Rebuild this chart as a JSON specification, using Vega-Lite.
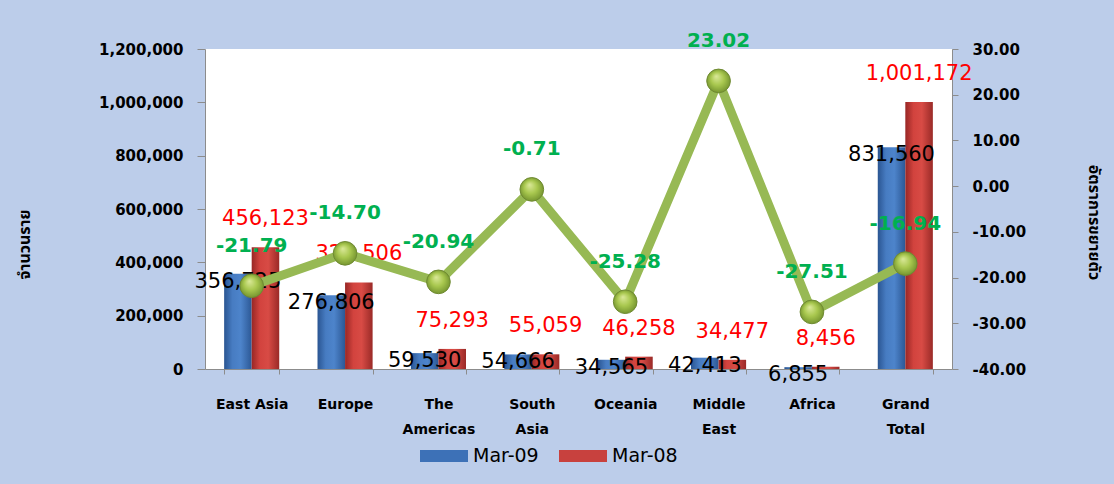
{
  "$schema": "https://vega.github.io/schema/vega-lite/v6.json",
  "width": 747,
  "height": 320,
  "autosize": {"type": "none"},
  "padding": {"left": 205, "top": 49, "right": 162, "bottom": 115},
  "background": "#bccdea",
  "config": {
    "view": {"fill": "white", "stroke": null},
    "font": "DejaVu Sans",
    "locale": {"number": {"decimal": ".", "thousands": ",", "grouping": [3], "currency": ["$", ""], "minus": "-"}},
    "axis": {
      "labelFont": "DejaVu Sans",
      "labelFontWeight": "bold",
      "labelColor": "#000000",
      "domainColor": "#8c8c8c",
      "tickColor": "#8c8c8c",
      "grid": false,
      "titleFont": "Noto Sans Thai, Noto Sans, DejaVu Sans, sans-serif",
      "titleFontWeight": "bold",
      "titleFontSize": 16,
      "titleColor": "#000000"
    },
    "legend": {
      "orient": "none",
      "legendX": 215,
      "legendY": 383,
      "direction": "horizontal",
      "title": null,
      "symbolType": "M-1,-0.25L1,-0.25L1,0.25L-1,0.25Z",
      "symbolSize": 2304,
      "symbolStrokeWidth": 0,
      "labelFont": "DejaVu Sans",
      "labelFontSize": 19,
      "labelColor": "#000000",
      "labelOffset": 5,
      "columnPadding": 20
    }
  },
  "datasets": {
    "bars": [
      {"region": "East  Asia", "series": "Mar-09", "visitors": 356725},
      {"region": "East  Asia", "series": "Mar-08", "visitors": 456123},
      {"region": "Europe", "series": "Mar-09", "visitors": 276806},
      {"region": "Europe", "series": "Mar-08", "visitors": 324506},
      {"region": "The Americas", "series": "Mar-09", "visitors": 59530},
      {"region": "The Americas", "series": "Mar-08", "visitors": 75293},
      {"region": "South Asia", "series": "Mar-09", "visitors": 54666},
      {"region": "South Asia", "series": "Mar-08", "visitors": 55059},
      {"region": "Oceania", "series": "Mar-09", "visitors": 34565},
      {"region": "Oceania", "series": "Mar-08", "visitors": 46258},
      {"region": "Middle East", "series": "Mar-09", "visitors": 42413},
      {"region": "Middle East", "series": "Mar-08", "visitors": 34477},
      {"region": "Africa", "series": "Mar-09", "visitors": 6855},
      {"region": "Africa", "series": "Mar-08", "visitors": 8456},
      {"region": "Grand Total", "series": "Mar-09", "visitors": 831560},
      {"region": "Grand Total", "series": "Mar-08", "visitors": 1001172}
    ],
    "growth": [
      {"region": "East  Asia", "growth": -21.79},
      {"region": "Europe", "growth": -14.70},
      {"region": "The Americas", "growth": -20.94},
      {"region": "South Asia", "growth": -0.71},
      {"region": "Oceania", "growth": -25.28},
      {"region": "Middle East", "growth": 23.02},
      {"region": "Africa", "growth": -27.51},
      {"region": "Grand Total", "growth": -16.94}
    ]
  },
  "encoding": {
    "x": {
      "field": "region",
      "type": "nominal",
      "sort": null,
      "scale": {"paddingInner": 0.41, "paddingOuter": 0.205},
      "axis": {
        "title": null,
        "labelAngle": 0,
        "labelFontSize": 14,
        "labelPadding": 23,
        "labelLineHeight": 25,
        "tickBand": "extent",
        "tickSize": 5,
        "labelExpr": "datum.label == 'East  Asia' ? datum.label : split(datum.label, ' ')"
      }
    }
  },
  "layer": [
    {
      "data": {"name": "bars"},
      "encoding": {
        "xOffset": {"field": "series", "type": "nominal", "scale": {"domain": ["Mar-09", "Mar-08"]}},
        "y": {
          "field": "visitors",
          "type": "quantitative",
          "scale": {"domain": [0, 1200000]},
          "axis": {
            "title": "จำนวนราย",
            "values": [0, 200000, 400000, 600000, 800000, 1000000, 1200000],
            "format": ",.0f",
            "labelFontSize": 15,
            "tickSize": 8,
            "labelPadding": 14,
            "titlePadding": 66,
            "titleY": 195
          }
        }
      },
      "layer": [
        {
          "mark": {"type": "bar", "strokeWidth": 0},
          "encoding": {
            "stroke": {
              "field": "series",
              "type": "nominal",
              "scale": {"domain": ["Mar-09", "Mar-08"], "range": ["#3d71b7", "#c8413e"]},
              "legend": {
                "encoding": {
                  "symbols": {
                    "fill": {"condition": {"test": "datum.value === 'Mar-09'", "value": "#3d71b7"}, "value": "#c8413e"},
                    "strokeWidth": {"value": 0}
                  }
                }
              }
            },
            "fill": {
              "condition": {
                "test": "datum.series === 'Mar-09'",
                "value": {"gradient": "linear", "x1": 0, "y1": 0, "x2": 1, "y2": 0,
                  "stops": [
                    {"offset": 0, "color": "#2a5592"},
                    {"offset": 0.3, "color": "#477cc2"},
                    {"offset": 0.6, "color": "#4d84cb"},
                    {"offset": 1, "color": "#2c5895"}
                  ]}
              },
              "value": {"gradient": "linear", "x1": 0, "y1": 0, "x2": 1, "y2": 0,
                "stops": [
                  {"offset": 0, "color": "#982725"},
                  {"offset": 0.3, "color": "#d2433e"},
                  {"offset": 0.6, "color": "#d84b45"},
                  {"offset": 1, "color": "#9a2a27"}
                ]}
            }
          }
        },
        {
          "transform": [{"filter": "datum.series === 'Mar-09'"}],
          "mark": {"type": "text", "baseline": "middle", "align": "center", "dy": 8, "fontSize": 21, "color": "#000000"},
          "encoding": {"text": {"field": "visitors", "type": "quantitative", "format": ","}}
        },
        {
          "transform": [{"filter": "datum.series === 'Mar-08'"}],
          "mark": {"type": "text", "baseline": "middle", "align": "center", "dy": -28, "fontSize": 21, "color": "#ff0000"},
          "encoding": {"text": {"field": "visitors", "type": "quantitative", "format": ","}}
        }
      ]
    },
    {
      "data": {"name": "growth"},
      "encoding": {
        "y": {
          "field": "growth",
          "type": "quantitative",
          "scale": {"domain": [-40, 30]},
          "axis": {
            "orient": "right",
            "title": "อัตราการขยายตัว",
            "values": [-40, -30, -20, -10, 0, 10, 20, 30],
            "format": ".2f",
            "labelFontSize": 15,
            "tickSize": 6,
            "labelPadding": 14,
            "titlePadding": 60,
            "titleY": 173
          }
        }
      },
      "layer": [
        {
          "mark": {"type": "line", "color": "#97b954", "strokeWidth": 9}
        },
        {
          "mark": {
            "type": "point",
            "shape": "circle",
            "size": 560,
            "filled": true,
            "opacity": 1,
            "strokeWidth": 1,
            "stroke": "#6f8a32",
            "fill": {"gradient": "radial", "x1": 0.4, "y1": 0.3, "r1": 0, "x2": 0.5, "y2": 0.5, "r2": 0.55,
              "stops": [
                {"offset": 0, "color": "#dbe99a"},
                {"offset": 0.5, "color": "#a9c84f"},
                {"offset": 1, "color": "#6f8f2c"}
              ]}
          }
        },
        {
          "mark": {"type": "text", "baseline": "middle", "align": "center", "dy": -40, "fontSize": 20, "fontWeight": "bold", "color": "#00b050"},
          "encoding": {"text": {"field": "growth", "type": "quantitative", "format": ".2f"}}
        }
      ]
    }
  ],
  "resolve": {"scale": {"y": "independent"}}
}
